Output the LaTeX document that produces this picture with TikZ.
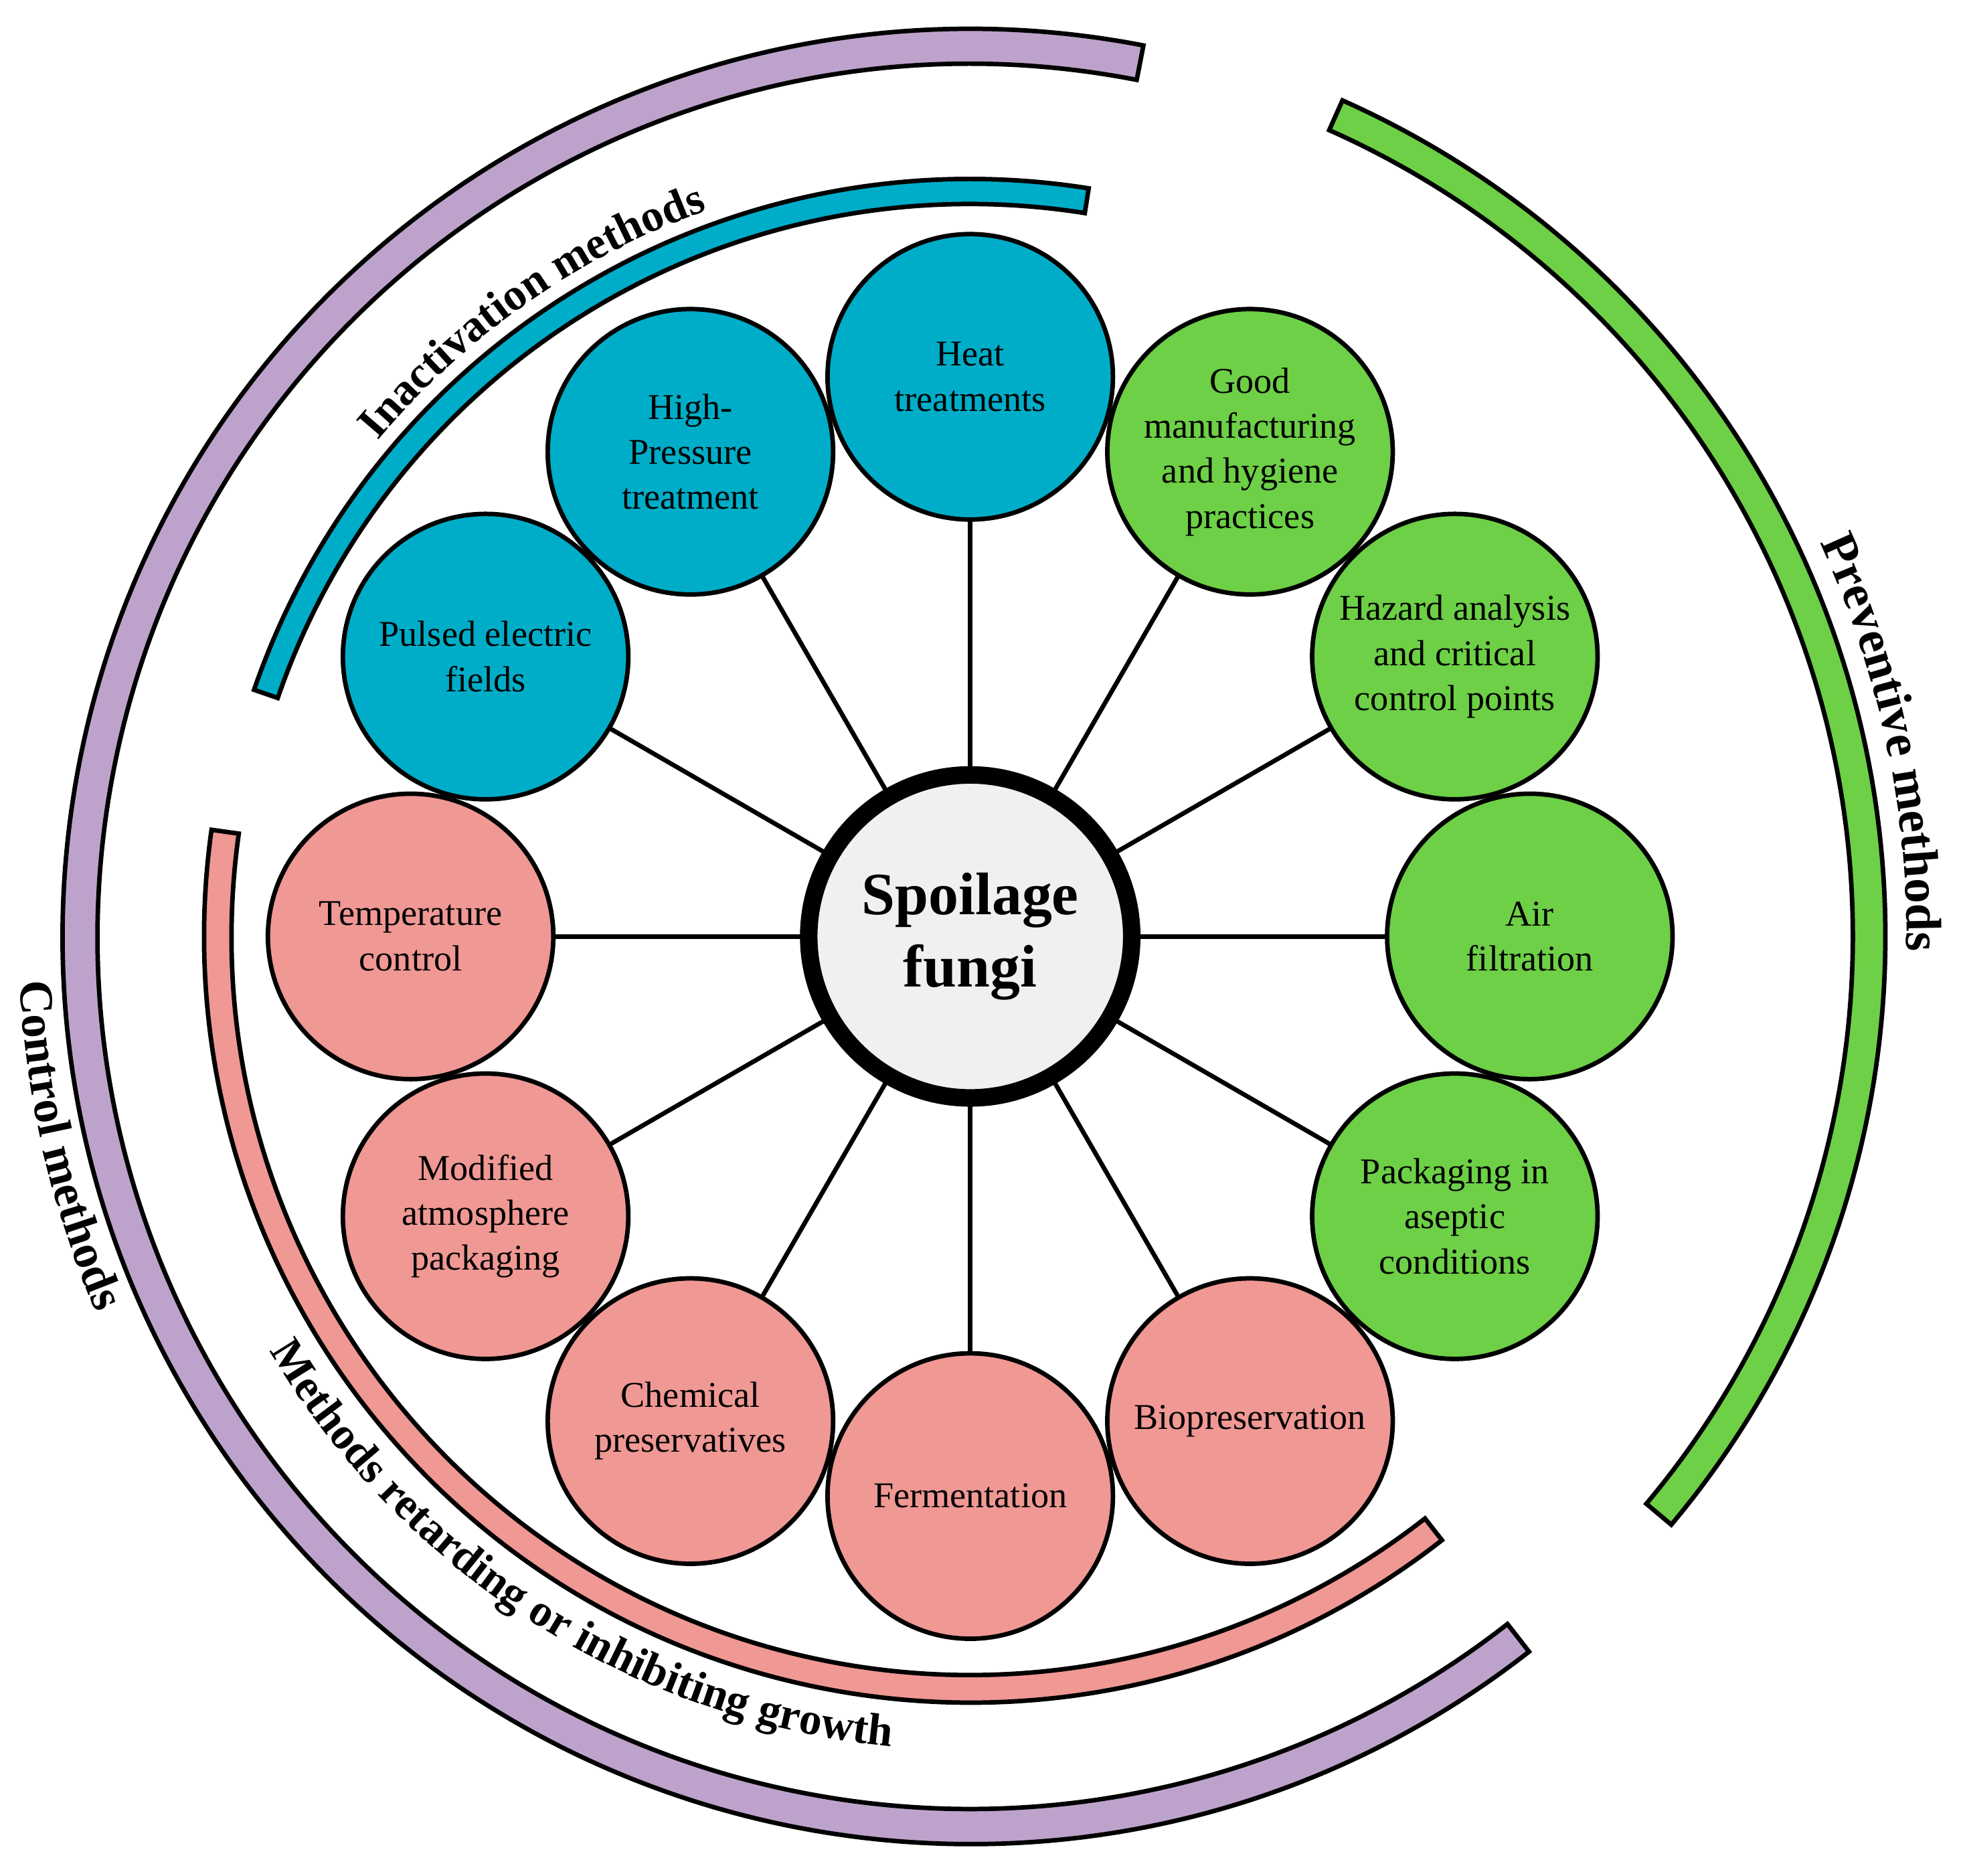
\documentclass[tikz,border=0pt]{standalone}
\usepackage{fontspec}
\setmainfont{Liberation Serif}
\usetikzlibrary{decorations.text}
\definecolor{cy}{HTML}{00ADC8}
\definecolor{gr}{HTML}{6DD046}
\definecolor{pk}{HTML}{EF9894}
\definecolor{pu}{HTML}{BDA3CB}
\begin{document}
\begin{tikzpicture}[x=0.5pt,y=0.5pt,
  item/.style={circle,draw=black,line width=1.8pt,minimum size=114pt,inner sep=0pt,align=center,font=\rmfamily\fontsize{14.5}{18}\selectfont},
  spoke/.style={line width=1.8pt},
  band/.style={draw=black,line width=1.8pt},
  arclabel/.style={decorate,decoration={text along path,text align=center,text={#1}}}]
\useasboundingbox (-775,-750) rectangle (793,748);
% bands
\filldraw[band,fill=pu] (79:697) arc (79:308:697) -- (308:725) arc (308:79:725) -- cycle;
\filldraw[band,fill=gr] (66:705) arc (66:-40:705) -- (-40:731) arc (-40:66:731) -- cycle;
\filldraw[band,fill=cy] (81:585) arc (81:161:585) -- (161:605) arc (161:81:605) -- cycle;
\filldraw[band,fill=pk] (172:590) arc (172:308:590) -- (308:612) arc (308:172:612) -- cycle;
% arc labels
\path[arclabel={|\bfseries\fontsize{18}{18}\selectfont|Inactivation methods}] (142:617) arc (142:108:617);
\path[arclabel={|\bfseries\fontsize{18}{18}\selectfont|Methods retarding or inhibiting growth}] (205:650) arc (205:270:650);
\path[arclabel={|\bfseries\fontsize{19}{19}\selectfont|Control methods}] (176:760) arc (176:210:760);
\path[arclabel={|\bfseries\fontsize{20}{20}\selectfont|Preventive methods}] (30:748) arc (30:-6:748);
% spokes
\coordinate (c) at (0,0);
\foreach \a in {0,30,...,330} \draw[spoke] (c) -- (\a:447);
% centre
\node[circle,draw=black,line width=7pt,fill=black!6,minimum size=129pt,align=center,font=\bfseries\fontsize{24}{29}\selectfont] (sf) at (c) {Spoilage\\fungi};
% items
\node[item,fill=cy] (heat) at (90:447) {Heat\\treatments};
\node[item,fill=cy] (hp) at (120:447) {High-\\Pressure\\treatment};
\node[item,fill=cy] (pef) at (150:447) {Pulsed electric\\fields};
\node[item,fill=gr] (gmp) at (60:447) {Good\\manufacturing\\and hygiene\\practices};
\node[item,fill=gr] (hac) at (30:447) {Hazard analysis\\and critical\\control points};
\node[item,fill=gr] (air) at (0:447) {Air\\filtration};
\node[item,fill=gr] (pack) at (-30:447) {Packaging in\\aseptic\\conditions};
\node[item,fill=pk] (bio) at (-60:447) {Biopreservation};
\node[item,fill=pk] (fer) at (-90:447) {Fermentation};
\node[item,fill=pk] (chem) at (-120:447) {Chemical\\preservatives};
\node[item,fill=pk] (map) at (-150:447) {Modified\\atmosphere\\packaging};
\node[item,fill=pk] (temp) at (180:447) {Temperature\\control};
\end{tikzpicture}
\end{document}
